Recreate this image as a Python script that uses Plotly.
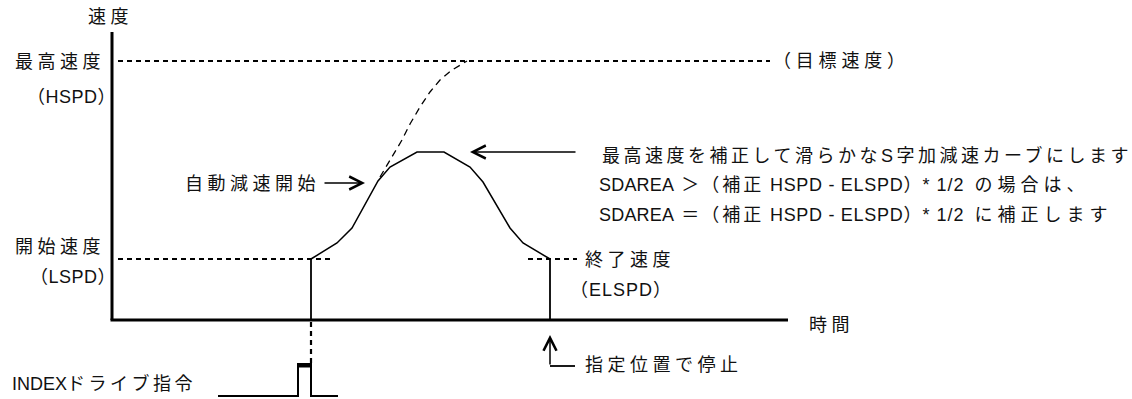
import plotly.graph_objects as go

# ---- data (time / speed units of the diagram) ----
time_axis_end = 676
speed_axis_top = 288
HSPD = 259
LSPD = 61
start_t = 199
stop_t = 438

curve_t = [199, 225, 240, 266, 278, 305, 332, 358, 371, 398, 411, 438]
curve_v = [61, 77, 92, 139, 153, 168, 168, 153, 138, 92, 77, 61]

target_t = [268, 278, 290, 298, 308, 318, 328, 340, 355]
target_v = [143, 160, 180, 196, 213, 228, 240, 250, 259]

hspd_line_t = [6, 658]
lspd_left_t = [6, 221]
lspd_right_t = [416, 465]

pulse_t = [106, 186, 186, 199, 199, 226]
pulse_v = [-76, -76, -44, -44, -76, -76]
pulse_top_v = -45.5

FONT = "Liberation Sans, Arial, Noto Sans CJK JP, sans-serif"
TXT = "#111111"

fig = go.Figure()

def line(x, y, width=1.5, dash=None, color="black"):
    fig.add_trace(go.Scatter(x=x, y=y, mode="lines", hoverinfo="skip",
                             line=dict(color=color, width=width, dash=dash),
                             showlegend=False))

# axes
line([0, 0], [0, speed_axis_top], width=3)
line([-1.5, time_axis_end], [0, 0], width=3)

# reference speed lines
line(hspd_line_t, [HSPD, HSPD], width=1.8, dash="5px,4px")
line(lspd_left_t, [LSPD, LSPD], width=1.8, dash="5px,4px")
line(lspd_right_t, [LSPD, LSPD], width=1.8, dash="5px,4px")

# start / stop verticals
line([start_t, start_t], [0, LSPD], width=1.8)
line([stop_t, stop_t], [0, LSPD], width=1.8)

# speed curve and target curve
line(curve_t, curve_v, width=1.5)
line(target_t, target_v, width=1.3, dash="7px,5px")

# INDEX pulse
line([start_t, start_t], [-2, -43], width=2.2, dash="5px,4px")
line(pulse_t, pulse_v, width=2)
line([186, 199], [pulse_top_v, pulse_top_v], width=4)

# L bracket for stop
line([stop_t, 463], [-46, -46], width=1.8)


def rich(segments):
    return "".join(f'<span style="letter-spacing:{ls}px">{s}</span>'
                   for s, ls in segments)


def text(x, y, s, anchor="left", ls=4.5, size=18):
    segs = s if isinstance(s, list) else [(s, ls)]
    fig.add_annotation(x=x, y=y, xref="x", yref="y", showarrow=False,
                       text=rich(segs), xanchor=anchor, yanchor="middle",
                       font=dict(family=FONT, size=size, color=TXT))


NB = "\u00a0"
text(-2, 303, "速度", anchor="center")
text(-5, 258, "最高速度", anchor="right")
text(6, 223, "（HSPD）", anchor="right", ls=0.5)
text(-5, 73, "開始速度", anchor="right")
text(6, 43, "（LSPD）", anchor="right", ls=0.5)
text(-102, -63, [("INDEX", 0), ("ドライブ指令", 3.5)])
text(210, 136, "自動減速開始", anchor="right")
text(659, 259, "（目標速度）", ls=4.8)
text(488, 165, "最高速度を補正して滑らかなS字加減速カーブにします", ls=3.5)
text(485, 135, [("SDAREA", 0.2), (NB + "＞", 2), ("（補正", 3),
                (" HSPD - ELSPD", 0.7), ("）* 1/2", 1),
                (" の場合は、", 5)])
text(485, 105, [("SDAREA", 0.2), (NB + "＝", 2), ("（補正", 3),
                (" HSPD - ELSPD", 0.7), ("）* 1/2", 1),
                (" に補正します", 5)])
text(471, 60, "終了速度")
text(456, 30, "（ELSPD）", ls=1)
text(695, -5, "時間")
text(471, -45, "指定位置で停止")


def arrow(x0, y0, x1, y1):
    fig.add_annotation(x=x1, y=y1, ax=x0, ay=y0, xref="x", yref="y",
                       axref="x", ayref="y", text="", showarrow=True,
                       arrowhead=5, arrowsize=1.7, arrowwidth=1.5,
                       arrowcolor="black")


arrow(211, 137, 253, 137)
arrow(465, 168, 358, 168)
arrow(stop_t, -46, stop_t, -15)

fig.update_layout(
    width=1132, height=399,
    margin=dict(l=0, r=0, t=0, b=0),
    paper_bgcolor="white", plot_bgcolor="white",
    xaxis=dict(range=[-112, 1020], visible=False, fixedrange=True),
    yaxis=dict(range=[-79, 320], visible=False, fixedrange=True),
    showlegend=False,
)

fig.write_html("out.html",
               config={"displayModeBar": False, "staticPlot": True},
               post_script="document.body.style.margin='0';"
                           "document.body.style.overflow='hidden';")
